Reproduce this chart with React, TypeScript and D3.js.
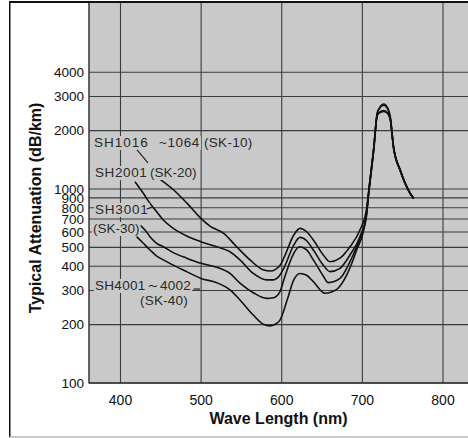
import React, { useEffect, useRef } from "react";
import * as d3 from "d3";

// ---- data ----
const WAVELENGTH_TICKS = [400, 500, 600, 700, 800];
const ATTENUATION_TICKS = [100, 200, 300, 400, 500, 600, 700, 800, 900, 1000, 2000, 3000, 4000];

const SK10_WL = [449.2, 466, 482.7, 499.8, 511, 528, 544, 560.6, 577.7, 585.9, 598, 602.5, 614.9, 622.6, 630.9, 639.2, 651.5, 659.8, 672.2, 684.6, 697, 705, 708, 714.2, 718.3, 720.8, 726.5, 731.6, 734.6, 738.7, 747, 759.5, 763.6];
const SK10_DB = [1122, 988, 843, 706, 644, 591, 504, 431, 382, 378, 405, 440, 579, 627, 602, 546, 457, 422, 440, 504, 615, 780, 988, 1647, 2447, 2607, 2743, 2607, 2360, 1647, 1253, 950, 896];

const SK20_WL = [418, 428.3, 436.6, 444.9, 453.1, 465.5, 482.1, 499.8, 519.3, 535.8, 548.2, 564.7, 581.3, 589.6, 597.8, 602.5, 614.9, 622.6, 630.9, 639.2, 651.5, 659.8, 672.2, 684.6, 697, 705, 708, 714.2, 718.3, 720.8, 726.5, 731.6, 734.6, 738.7, 747, 759.5, 763.6];
const SK20_DB = [1090, 950, 843, 764, 692, 627, 573, 535, 504, 475, 431, 367, 340, 340, 360, 390, 514, 563, 541, 485, 405, 375, 390, 457, 568, 735, 980, 1640, 2440, 2590, 2700, 2570, 2330, 1640, 1250, 948, 895];

const SK30_WL = [424.2, 430.4, 436.6, 444.9, 453.1, 465.5, 482.1, 499.8, 519.3, 535.8, 548.2, 564.7, 581.3, 589.6, 597.8, 602.5, 614.9, 621.8, 630.9, 639.2, 651.5, 657.7, 672.2, 684.6, 697, 705, 708, 714.2, 718.3, 720.8, 726.5, 731.6, 734.6, 738.7, 747, 759.5, 763.6];
const SK30_DB = [652, 615, 568, 525, 504, 470, 440, 414, 395, 367, 327, 292, 273, 275, 296, 340, 466, 504, 485, 431, 356, 329, 346, 422, 557, 720, 970, 1620, 2400, 2480, 2540, 2460, 2300, 1630, 1245, 945, 893];

const SK40_WL = [420.1, 428.3, 436.6, 444.9, 453.1, 465.5, 482.1, 499.8, 519.3, 535.8, 548.2, 564.7, 577.1, 585.4, 593.7, 597.8, 606.7, 614.9, 622.6, 630.9, 639.2, 653.6, 668.1, 680.5, 692.9, 703.3, 708, 714.2, 718.3, 720.8, 726.5, 731.6, 734.6, 738.7, 747, 759.5, 763.6];
const SK40_DB = [568, 525, 485, 451, 431, 405, 375, 346, 329, 302, 268, 224, 201, 197, 203, 211, 268, 340, 367, 359, 333, 290, 304, 360, 485, 666, 960, 1600, 2380, 2460, 2510, 2440, 2280, 1620, 1240, 942, 890];

const SERIES_WL = [SK10_WL, SK20_WL, SK30_WL, SK40_WL];
const SERIES_DB = [SK10_DB, SK20_DB, SK30_DB, SK40_DB];

// leader lines (wavelength, attenuation)
const LEADER_WL = [[420.5, 434.1], [432.5, 439.1], [490.5, 498.6]];
const LEADER_DB = [[1591, 1363], [788, 808], [305, 305]];

// curve labels
const LABEL_TEXT = ["SH1016", "~1064", "(SK-10)", "SH2001", "(SK-20)", "SH3001", "(SK-30)", "SH4001～4002", "(SK-40)"];
const LABEL_X = [94, 159, 204, 95, 150, 95, 93, 95, 140];
const LABEL_Y = [147, 147, 147, 177, 177, 214, 233, 290, 305];
const LABEL_SPACING = [1, 0.6, 0.3, 0.6, 0, 0.8, 0, 0.3, 0.2];

const W = 468;
const H = 438;
const PLOT_LEFT = 89;
const PLOT_RIGHT = 468;
const PLOT_TOP = 3;
const PLOT_BOTTOM = 383;
const BG = "#c9c9c9";
const FONT = "'Liberation Sans', Arial, Helvetica, sans-serif";

export default function App() {
  const ref = useRef<SVGSVGElement>(null);

  useEffect(() => {
    const svg = d3.select(ref.current);
    svg.selectAll("*").remove();

    const x = d3.scaleLinear().domain([400, 800]).range([120.5, 443]);
    const y = d3.scaleLog().domain([100, 1000]).range([PLOT_BOTTOM, 189]);

    svg.append("rect").attr("x", 0).attr("y", 0).attr("width", W).attr("height", H).attr("fill", "#fff");

    // plot background
    svg.append("rect")
      .attr("x", PLOT_LEFT).attr("y", PLOT_TOP)
      .attr("width", PLOT_RIGHT - PLOT_LEFT).attr("height", PLOT_BOTTOM - PLOT_TOP)
      .attr("fill", BG);

    const grid = svg.append("g").attr("stroke", "#3c3c3c").attr("stroke-width", 1.1);
    grid.selectAll("line.h").data(ATTENUATION_TICKS).join("line")
      .attr("x1", PLOT_LEFT).attr("x2", PLOT_RIGHT)
      .attr("y1", (d) => y(d)).attr("y2", (d) => y(d));
    grid.selectAll("line.v").data(WAVELENGTH_TICKS).join("line")
      .attr("x1", (d) => x(d)).attr("x2", (d) => x(d))
      .attr("y1", PLOT_TOP).attr("y2", PLOT_BOTTOM);

    // plot edges
    svg.append("line").attr("x1", PLOT_LEFT).attr("x2", PLOT_LEFT).attr("y1", PLOT_TOP).attr("y2", PLOT_BOTTOM + 0.5)
      .attr("stroke", "#333").attr("stroke-width", 1.5);
    svg.append("line").attr("x1", PLOT_LEFT).attr("x2", PLOT_RIGHT).attr("y1", PLOT_BOTTOM).attr("y2", PLOT_BOTTOM)
      .attr("stroke", "#333").attr("stroke-width", 1.5);

    // curves
    const line = d3.line<[number, number]>()
      .x((d) => x(d[0]))
      .y((d) => y(d[1]))
      .curve(d3.curveMonotoneX);
    SERIES_WL.forEach((wl, i) => {
      const pts = wl.map((w, j) => [w, SERIES_DB[i][j]] as [number, number]);
      svg.append("path").attr("d", line(pts)).attr("fill", "none")
        .attr("stroke", "#111").attr("stroke-width", 1.6).attr("stroke-linejoin", "round");
    });

    // labels with background
    const labG = svg.append("g");
    LABEL_TEXT.forEach((t, i) => {
      const bgRect = labG.append("rect").attr("fill", BG);
      const txt = labG.append("text")
        .attr("x", LABEL_X[i]).attr("y", LABEL_Y[i])
        .attr("font-family", FONT).attr("font-size", 13.5)
        .attr("letter-spacing", LABEL_SPACING[i])
        .attr("fill", "#2a2a2a")
        .text(t);
      const bb = (txt.node() as SVGTextElement).getBBox();
      bgRect.attr("x", bb.x - 1).attr("y", bb.y + 1).attr("width", bb.width + 2).attr("height", bb.height - 1);
    });

    // leaders
    LEADER_WL.forEach((wl, i) => {
      const pts = wl.map((w, j) => [w, LEADER_DB[i][j]] as [number, number]);
      svg.append("path").attr("d", d3.line<[number, number]>().x((d) => x(d[0])).y((d) => y(d[1]))(pts))
        .attr("stroke", "#222").attr("stroke-width", 1.2).attr("fill", "none");
    });

    // y tick labels
    svg.append("g").selectAll("text").data(ATTENUATION_TICKS).join("text")
      .attr("x", 84).attr("y", (d) => y(d)).attr("dy", "0.36em")
      .attr("text-anchor", "end").attr("font-family", FONT).attr("font-size", 13.5)
      .attr("fill", "#111").text((d) => String(d));

    // x tick labels
    svg.append("g").selectAll("text").data(WAVELENGTH_TICKS).join("text")
      .attr("x", (d) => x(d)).attr("y", 405)
      .attr("text-anchor", "middle").attr("font-family", FONT).attr("font-size", 14)
      .attr("fill", "#111").text((d) => String(d));

    // axis titles
    svg.append("text").attr("x", 278.5).attr("y", 424).attr("text-anchor", "middle")
      .attr("font-family", FONT).attr("font-size", 16).attr("font-weight", "bold").attr("fill", "#111")
      .text("Wave Length (nm)");
    svg.append("text").attr("transform", "translate(41,208) rotate(-90)").attr("text-anchor", "middle")
      .attr("font-family", FONT).attr("font-size", 16).attr("font-weight", "bold").attr("fill", "#111")
      .text("Typical Attenuation (dB/km)");

    // frame
    svg.append("line").attr("x1", 9).attr("x2", W).attr("y1", 2).attr("y2", 2).attr("stroke", "#111").attr("stroke-width", 2);
    svg.append("line").attr("x1", 9.75).attr("x2", 9.75).attr("y1", 1).attr("y2", 437).attr("stroke", "#111").attr("stroke-width", 1.5);
    svg.append("line").attr("x1", 9).attr("x2", W).attr("y1", 437).attr("y2", 437).attr("stroke", "#999").attr("stroke-width", 1);
  }, []);

  return (
    <svg
      ref={ref}
      width={W}
      height={H}
      style={{ position: "absolute", left: 0, top: 0, display: "block" }}
    />
  );
}
